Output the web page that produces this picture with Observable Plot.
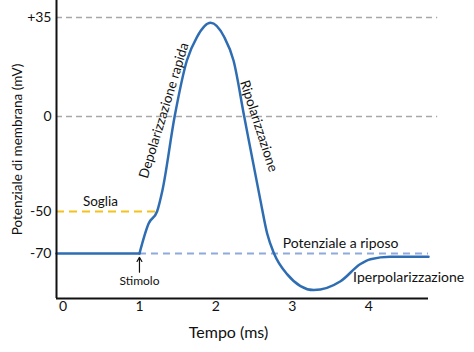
<!DOCTYPE html>
<html>
<head>
<meta charset="utf-8">
<script src="https://cdn.jsdelivr.net/npm/d3@7"></script>
<script src="https://cdn.jsdelivr.net/npm/@observablehq/plot@0.6"></script>
<style>
  html, body { margin: 0; padding: 0; background: #fff; }
</style>
</head>
<body>
<div id="chart"></div>
<script>
// Action potential curve (time in ms, membrane potential in mV)
const timeMs = [-0.085, 1.0, 1.0, 1.12, 1.23, 1.30, 1.46, 1.62, 1.75, 1.93, 2.11, 2.23, 2.37, 2.58, 2.67, 2.76, 2.93, 3.28, 3.63, 3.89, 4.02, 4.28, 4.78];
const voltage = [-70, -70, -70, -55.7, -50, -38.9, 0, 19.8, 28, 33.1, 28, 19.8, 0, -43.75, -60.5, -70, -79.8, -87.4, -83.2, -75, -72.7, -71.5, -71.5];
const segment = ["rest", "rest", "ap", "ap", "ap", "ap", "ap", "ap", "ap", "ap", "ap", "ap", "ap", "ap", "ap", "ap", "ap", "ap", "ap", "ap", "ap", "ap", "ap"];

// reference levels
const gridLevels = [35, 0];
const thresholdLevel = -50;
const restLevel = -70;
const thresholdEnd = 1.23;
const stimulusTime = 1.0;

// tick labels
const yTicks = [-70, -50, 0, 35];
const yTickLabels = ["-70", "-50", "0", "+35"];
const xTicks = [0, 1, 2, 3, 4];

// annotations
const annText = ["Soglia", "Depolarizzazione rapida", "Ripolarizzazione", "Stimolo", "Potenziale a riposo", "Iperpolarizzazione"];
const annT = [0.49, 1.32, 2.56, 1.0, 3.63, 4.52];
const annV = [-44.6, 2.1, -5, -83, -65.2, -81.4];
const annRotate = [0, -73, 72, 0, 0, 0];
const annSize = [13.5, 13.5, 13.5, 12, 14, 14];

const xMin = -0.085, xMax = 4.78;
const yMin = -91.4, yMax = 41;

// schematic (non-uniform) vertical axis: piecewise-linear stretch between labelled levels
const yLevels = [yMin, -70, -50, 0, 35, yMax];
const yStretch = [0, 45, 87, 182, 281, 298];
const yWarp = d3.scaleLinear().domain(yLevels).range(yStretch);

const curve = timeMs.map((t, i) => ({t, v: voltage[i], s: segment[i]}));
const ann = annText.map((txt, i) => ({txt, t: annT[i], v: annV[i], r: annRotate[i], fs: annSize[i]}));
const yTickData = yTicks.map((v, i) => ({v, label: yTickLabels[i]}));

const blue = "#2f6db3";

const chart = Plot.plot({
  width: 474,
  height: 352,
  marginLeft: 56,
  marginRight: 46,
  marginTop: 0,
  marginBottom: 54,
  style: {fontFamily: "Lato, 'Open Sans', sans-serif", fontSize: "13px", background: "#fff", color: "#111"},
  x: {domain: [xMin, xMax], axis: null},
  y: {transform: v => yWarp(v), domain: [0, 298], axis: null},
  marks: [
    // grey dashed grid
    Plot.ruleY(gridLevels, {x1: xMin, x2: 4.9, stroke: "#a8a8a8", strokeWidth: 1.3, strokeDasharray: "6,4"}),
    // threshold
    Plot.ruleY([thresholdLevel], {x1: xMin, x2: thresholdEnd, stroke: "#f5c21b", strokeWidth: 2.2, strokeDasharray: "8,5"}),
    // resting potential
    Plot.ruleY([restLevel], {x1: stimulusTime, x2: xMax, stroke: "#8eaadb", strokeWidth: 2.2, strokeDasharray: "7,5"}),
    // curve
    Plot.line(curve, {x: "t", y: "v", z: "s", stroke: blue, strokeWidth: 2.5, curve: "monotone-x"}),
    // axes lines
    Plot.ruleX([xMin], {y1: yMin, y2: yMax, stroke: "#111", strokeWidth: 2}),
    Plot.ruleY([yMin], {x1: xMin, x2: xMax, stroke: "#111", strokeWidth: 2}),
    // stimulus arrow
    Plot.arrow([stimulusTime], {x1: d => d, x2: d => d, y1: -78.9, y2: -71.8, stroke: "#111", strokeWidth: 1.2, headLength: 6}),
    // y tick labels
    Plot.text(yTickData, {y: "v", text: "label", frameAnchor: "left", textAnchor: "end", dx: -5, fontSize: 14, fill: "#111"}),
    // x tick labels
    Plot.axisX({ticks: xTicks, tickSize: 0, tickPadding: 3, tickFormat: d => String(d), fontSize: 14, label: null}),
    // annotations
    Plot.text(ann, {x: "t", y: "v", text: "txt", rotate: "r", fontSize: "fs", fill: "#111"}),
    // axis titles
    Plot.text(["Tempo (ms)"], {frameAnchor: "bottom", lineAnchor: "middle", dx: -14, dy: 34, fontSize: 16, fill: "#111"}),
    Plot.text(["Potenziale di membrana (mV)"], {frameAnchor: "left", textAnchor: "middle", rotate: -90, dx: -39, dy: 0, fontSize: 13.5, fill: "#111"})
  ]
});
document.getElementById("chart").appendChild(chart);
</script>
</body>
</html>
